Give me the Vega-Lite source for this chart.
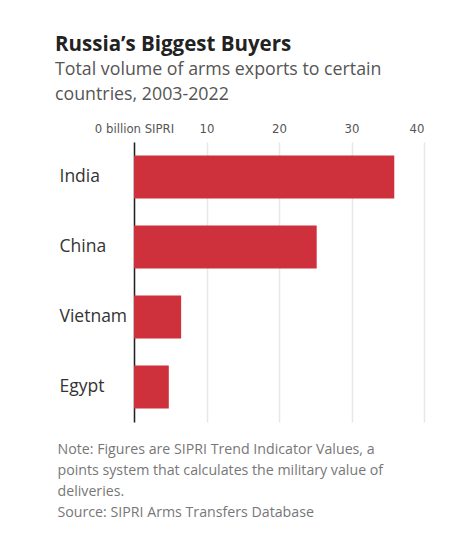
{
  "$schema": "https://vega.github.io/schema/vega-lite/v6.json",
  "width": 290,
  "height": 280,
  "padding": {"left": 55, "top": 34, "right": 10, "bottom": 10},
  "background": "white",
  "data": {
    "values": [
      {"country": "India", "value": 35.9},
      {"country": "China", "value": 25.2},
      {"country": "Vietnam", "value": 6.5},
      {"country": "Egypt", "value": 4.8}
    ]
  },
  "title": {
    "text": "Russia’s Biggest Buyers",
    "subtitle": ["Total volume of arms exports to certain", "countries, 2003-2022"],
    "anchor": "start",
    "frame": "bounds",
    "font": "Open Sans",
    "fontSize": 20.5,
    "fontWeight": "bold",
    "color": "#222222",
    "subtitleFont": "Open Sans",
    "subtitleFontSize": 17.8,
    "subtitleColor": "#555555",
    "subtitleLineHeight": 25,
    "subtitlePadding": 6,
    "offset": 18,
    "dx": -2
  },
  "encoding": {
    "y": {
      "field": "country",
      "type": "nominal",
      "sort": null,
      "title": null,
      "scale": {"paddingInner": 0.386, "paddingOuter": 0.193},
      "axis": {
        "orient": "left",
        "ticks": false,
        "grid": false,
        "domain": true,
        "domainColor": "#222222",
        "domainWidth": 1.5,
        "labelAlign": "left",
        "labelPadding": 75,
        "labelFont": "Open Sans",
        "labelFontSize": 17.5,
        "labelColor": "#333333"
      }
    }
  },
  "layer": [
    {
      "mark": {"type": "bar", "color": "#ce313b"},
      "encoding": {
        "x": {
          "field": "value",
          "type": "quantitative",
          "title": null,
          "scale": {"domain": [0, 40], "nice": false},
          "axis": {
            "orient": "top",
            "values": [0, 10, 20, 30, 40],
            "ticks": false,
            "domain": false,
            "grid": true,
            "gridColor": "#e8e8e8",
            "gridWidth": 1.5,
            "labelExpr": "datum.value == 0 ? '0 billion SIPRI' : datum.label",
            "labelAlign": {"condition": {"test": "datum.value == 40", "value": "right"}, "value": "center"},
            "labelFont": "DejaVu Sans Condensed, Roboto",
            "labelFontSize": 13,
            "labelColor": "#555555",
            "labelPadding": 7
          }
        }
      }
    },
    {
      "mark": {"type": "bar", "opacity": 0},
      "encoding": {
        "x": {
          "field": "value",
          "type": "quantitative",
          "axis": {
            "orient": "bottom",
            "ticks": false,
            "domain": false,
            "grid": false,
            "labels": false,
            "title": [
              "Note: Figures are SIPRI Trend Indicator Values, a",
              "points system that calculates the military value of",
              "deliveries.",
              "Source: SIPRI Arms Transfers Database"
            ],
            "titleX": -77,
            "titleAlign": "left",
            "titleAnchor": "start",
            "titleBaseline": "top",
            "titlePadding": 20,
            "titleFont": "Open Sans",
            "titleFontSize": 14.2,
            "titleFontWeight": "normal",
            "titleColor": "#777777",
            "titleLineHeight": 21
          }
        }
      }
    }
  ],
  "resolve": {"axis": {"x": "independent"}},
  "config": {"view": {"stroke": null}}
}
